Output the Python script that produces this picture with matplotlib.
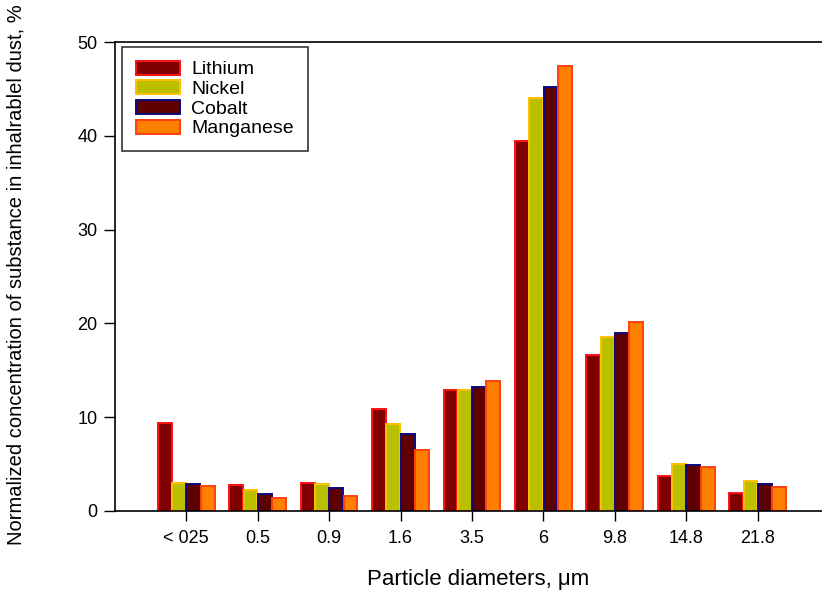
import numpy as np
import matplotlib
matplotlib.use("Agg")
import matplotlib.pyplot as plt

plt.rcParams['font.family'] = ['Liberation Sans', 'DejaVu Sans']

categories = ["< 025", "0.5", "0.9", "1.6", "3.5", "6", "9.8", "14.8", "21.8"]
lithium = [9.4, 2.8, 2.95, 10.85, 12.95, 39.45, 16.65, 3.75, 1.9]
nickel = [3.0, 2.2, 2.85, 9.25, 12.85, 44.0, 18.5, 5.05, 3.15]
cobalt = [2.85, 1.85, 2.4, 8.25, 13.2, 45.25, 19.0, 4.95, 2.9]
manganese = [2.65, 1.35, 1.65, 6.45, 13.9, 47.4, 20.1, 4.65, 2.55]

series = [
    ("Lithium", lithium, "#800000", "#FF1010"),
    ("Nickel", nickel, "#BABF00", "#FFC000"),
    ("Cobalt", cobalt, "#5E0000", "#0A0A80"),
    ("Manganese", manganese, "#FF8000", "#FF4010"),
]

fig = plt.figure(figsize=(8.22, 5.95), dpi=100)
ax = fig.add_axes([0.1405, 0.1412, 0.8595, 0.7882])

x = np.arange(len(categories))
width = 0.2
for i, (name, vals, face, edge) in enumerate(series):
    ax.bar(x + (i - 1.5) * width, vals, width * 0.97, color=face,
           edgecolor=edge, linewidth=1.4, label=name)

ax.set_xlim(-0.99, 8.9)
ax.set_ylim(0, 50)
ax.set_xticks(x)
ax.set_xticklabels(categories, fontsize=13)
ax.set_yticks([0, 10, 20, 30, 40, 50])
ax.tick_params(axis='y', labelsize=13, direction='out', length=8, width=1, pad=5)
ax.tick_params(axis='x', direction='out', length=7, width=1, pad=7)
ax.spines['right'].set_visible(False)
for s in ['left', 'top', 'bottom']:
    ax.spines[s].set_linewidth(1.2)

ax.set_xlabel("Particle diameters, μm", fontsize=16)
ax.xaxis.set_label_coords(0.513, -0.124)
ax.set_ylabel("Normalized concentration of substance in inhalrablel dust, %",
              fontsize=14.5)
ax.yaxis.set_label_coords(-0.127, 0.505)

leg = ax.legend(loc='upper left', bbox_to_anchor=(0.0092, 0.9893), fontsize=14,
                frameon=True, fancybox=False, edgecolor='black',
                handlelength=2.3, handleheight=0.72, handletextpad=0.57,
                labelspacing=0.1, borderpad=0.7, borderaxespad=0.0)
leg.get_frame().set_linewidth(1.2)

fig.savefig("out.png", dpi=100)
